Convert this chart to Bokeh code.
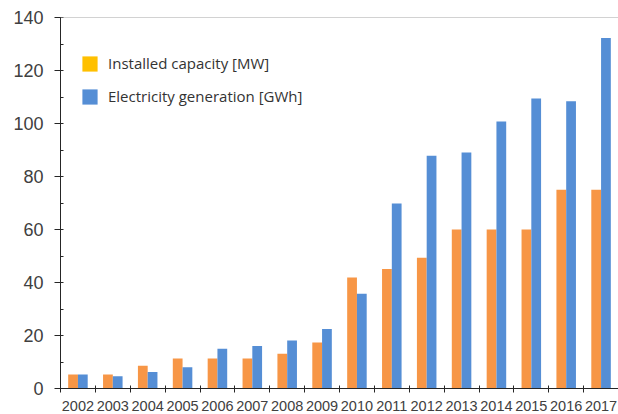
from bokeh.plotting import figure
from bokeh.models import Range1d, FixedTicker, Span, Legend, LegendItem, ColumnDataSource
from bokeh.embed import file_html
from bokeh.resources import INLINE

# Annual figures, 2002-2017
years = [2002, 2003, 2004, 2005, 2006, 2007, 2008, 2009,
         2010, 2011, 2012, 2013, 2014, 2015, 2016, 2017]
capacity_mw = [5.3, 5.3, 8.6, 11.3, 11.3, 11.3, 13.1, 17.4,
               41.9, 45.1, 49.3, 60.0, 60.0, 60.0, 75.0, 75.0]
generation_gwh = [5.3, 4.6, 6.2, 8.0, 15.0, 16.0, 18.1, 22.5,
                  35.8, 69.8, 87.8, 89.1, 100.8, 109.4, 108.4, 132.3]

y_ticks = [0, 20, 40, 60, 80, 100, 120, 140]
y_minor = [10, 30, 50, 70, 90, 110, 130]

ORANGE = "#F79646"
BLUE = "#558ED5"
GOLD = "#FFC000"
TEXT = "#404040"
AXIS = "#262626"

p = figure(width=618, height=414, output_backend="svg", toolbar_location=None,
           x_range=Range1d(years[0] - 0.5, years[-1] + 0.5), y_range=Range1d(0, 140),
           min_border_left=60, min_border_top=17, min_border_bottom=26,
           min_border_right=0)
p.grid.visible = False
p.outline_line_color = None
p.background_fill_color = "white"
p.border_fill_color = "white"

src = ColumnDataSource(dict(
    x_cap=[y - 0.14 for y in years],
    x_gen=[y + 0.14 for y in years],
    cap=capacity_mw,
    gen=generation_gwh,
))
p.vbar(x="x_cap", top="cap", bottom=0, width=0.28, source=src,
       fill_color=ORANGE, line_color=None)
p.vbar(x="x_gen", top="gen", bottom=0, width=0.28, source=src,
       fill_color=BLUE, line_color=None)

# thin grey line closing the top of the plot area
p.add_layout(Span(location=140, dimension="width", line_color="#A6A6A6", line_width=1))

# x axis: year labels centred, tick marks between the years
xa = p.xaxis[0]
xa.ticker = FixedTicker(ticks=years, minor_ticks=[y - 0.5 for y in years])
xa.major_label_overrides = {y: str(y) for y in years}
xa.major_tick_line_color = None
xa.minor_tick_in = 3
xa.minor_tick_out = 4
xa.minor_tick_line_color = AXIS
xa.axis_line_color = AXIS
xa.major_label_text_font = "Liberation Sans"
xa.major_label_text_font_size = "14.5px"
xa.major_label_text_color = TEXT
xa.major_label_standoff = 6

ya = p.yaxis[0]
ya.ticker = FixedTicker(ticks=y_ticks, minor_ticks=y_minor)
ya.major_tick_in = 3
ya.major_tick_out = 6
ya.minor_tick_in = 3
ya.minor_tick_out = 0
ya.major_tick_line_color = AXIS
ya.minor_tick_line_color = AXIS
ya.axis_line_color = AXIS
ya.major_label_text_font = "Liberation Sans"
ya.major_label_text_font_size = "18px"
ya.major_label_text_color = TEXT
ya.major_label_standoff = 11

# legend swatches (zero-height bars, only their legend glyphs show)
r_cap = p.vbar(x=[years[0]], top=[0], bottom=[0], width=0.0,
               fill_color=GOLD, line_color=None)
r_gen = p.vbar(x=[years[0]], top=[0], bottom=[0], width=0.0,
               fill_color=BLUE, line_color=None)
legend = Legend(items=[
    LegendItem(label="Installed capacity [MW]", renderers=[r_cap]),
    LegendItem(label="Electricity generation [GWh]", renderers=[r_gen]),
], location=(20, 282), orientation="vertical")
legend.padding = 0
legend.margin = 0
legend.spacing = 13
legend.glyph_width = 19
legend.glyph_height = 19
legend.label_height = 19
legend.label_standoff = 9
legend.label_text_font = "Open Sans"
legend.label_text_font_size = "15px"
legend.label_text_color = "#333333"
legend.background_fill_alpha = 0
legend.border_line_color = None
p.add_layout(legend)

open("out.html", "w").write(file_html(p, INLINE))
